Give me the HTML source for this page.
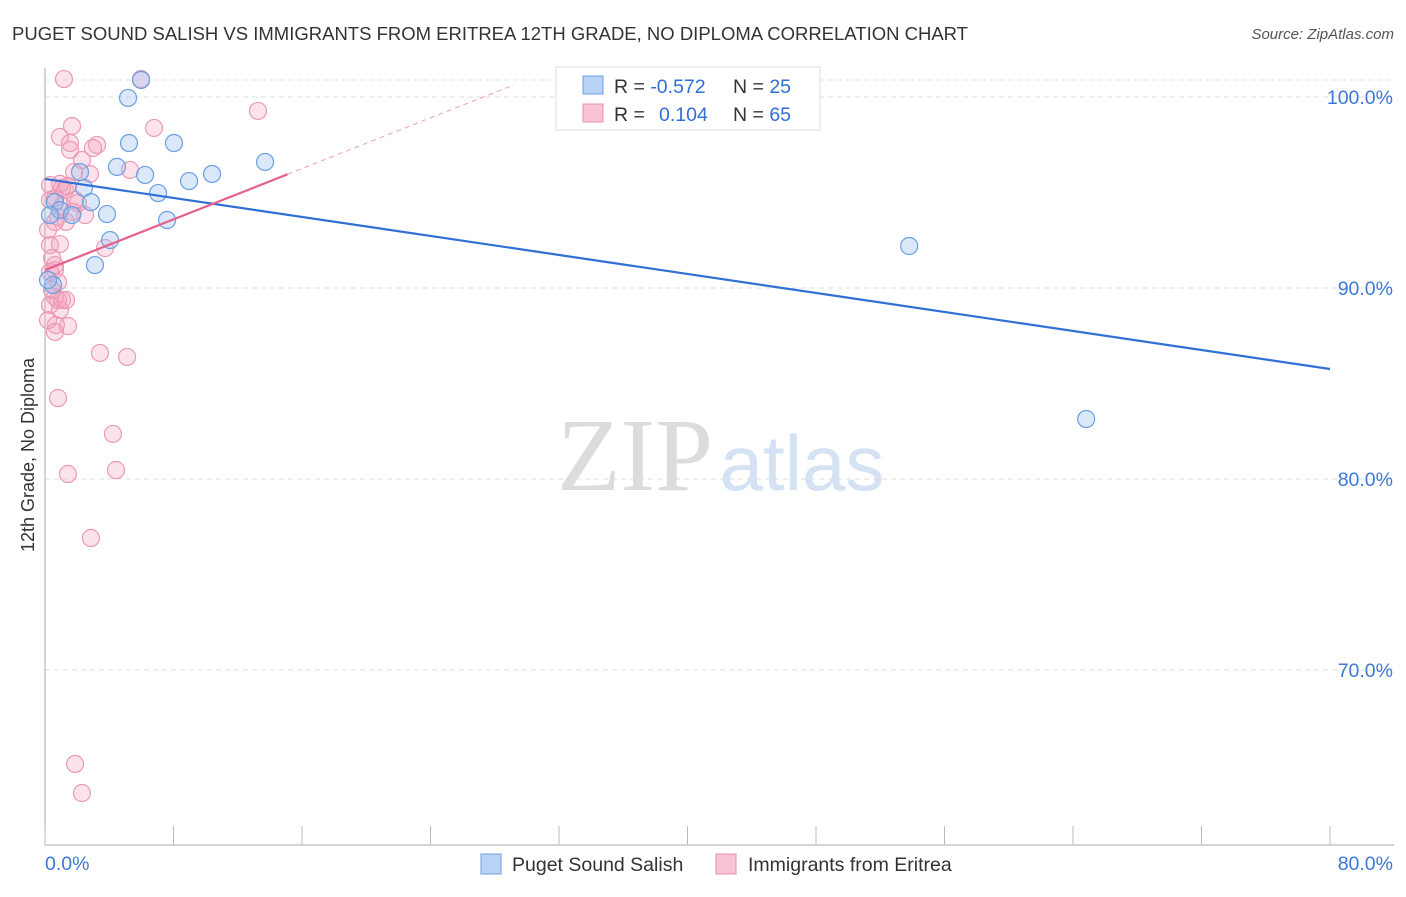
<!DOCTYPE html>
<html><head><meta charset="utf-8"><style>
body{margin:0;background:#fff;font-family:"Liberation Sans",sans-serif}
</style></head><body>
<svg id="chart" width="1406" height="892" xmlns="http://www.w3.org/2000/svg" style="font-family:'Liberation Sans',sans-serif">
<text x="12" y="40" font-size="18.5" fill="#333">PUGET SOUND SALISH VS IMMIGRANTS FROM ERITREA 12TH GRADE, NO DIPLOMA CORRELATION CHART</text>
<text x="1394" y="39" font-size="15" fill="#555" font-style="italic" text-anchor="end">Source: ZipAtlas.com</text>
<g>
<text x="635" y="490" font-size="104" fill="#dcdcdc" text-anchor="middle" font-family="Liberation Serif,serif">ZIP</text>
<text x="802" y="490" font-size="78" fill="#d4e2f4" text-anchor="middle">atlas</text>
</g>
<g id="grid"></g>
<g id="axes"></g>
<g id="marks"></g>
<text transform="translate(34,455) rotate(-90)" font-size="18" fill="#333" text-anchor="middle">12th Grade, No Diploma</text>
<g>
<rect x="556" y="67" width="264" height="63" fill="#fff" stroke="#ddd"/>
<rect x="583" y="76" width="20" height="18" fill="#b9d3f5" stroke="#6a9fe0"/>
<rect x="583" y="104" width="20" height="18" fill="#f8c3d4" stroke="#ea8fb0"/>
<text x="614" y="93" font-size="19.5" fill="#333">R = <tspan fill="#2f6fd6">-0.572</tspan></text>
<text x="733" y="93" font-size="19.5" fill="#333">N = <tspan fill="#2f6fd6">25</tspan></text>
<text x="614" y="121" font-size="19.5" fill="#333">R = <tspan fill="#2f6fd6" x="659">0.104</tspan></text>
<text x="733" y="121" font-size="19.5" fill="#333">N = <tspan fill="#2f6fd6">65</tspan></text>
</g>
<g>
<rect x="481" y="854" width="20" height="20" fill="#b9d3f5" stroke="#6a9fe0"/>
<text x="512" y="871" font-size="19.5" fill="#333">Puget Sound Salish</text>
<rect x="716" y="854" width="20" height="20" fill="#f8c3d4" stroke="#ea8fb0"/>
<text x="748" y="871" font-size="19.5" fill="#333">Immigrants from Eritrea</text>
</g>
</svg>
<script>
const yTicks=[100,90,80,70];
const yTickLabels=["100.0%","90.0%","80.0%","70.0%"];
const xTicks=[0,8,16,24,32,40,48,56,64,72,80];
const blueX=[5.98,5.17,5.23,8.03,4.48,6.23,10.40,8.97,13.70,7.04,2.43,2.18,2.86,0.62,0.93,3.86,1.68,7.60,4.05,3.11,0.50,53.80,64.82,0.31,0.19];
const blueY=[100.89,99.95,97.59,97.59,96.34,95.92,95.97,95.60,96.60,94.97,95.24,96.07,94.50,94.50,94.08,93.87,93.82,93.56,92.51,91.20,90.16,92.20,83.14,93.82,90.42];
const pinkX=[1.18,5.98,13.26,1.68,6.79,0.93,1.56,3.24,2.99,2.30,5.29,2.80,1.81,0.93,1.25,1.43,2.05,0.62,1.06,1.74,1.31,0.62,3.74,0.31,0.93,0.44,0.62,0.31,0.81,0.62,0.81,1.06,0.31,0.93,0.68,1.43,0.62,3.42,5.11,0.81,4.23,1.43,4.42,2.86,1.87,2.30,0.31,0.19,0.44,0.19,1.31,1.87,2.49,0.81,1.06,1.56,0.31,0.62];
const pinkY=[100.94,100.94,99.27,98.48,98.38,97.91,97.59,97.49,97.33,96.70,96.18,95.97,96.07,95.45,95.13,95.34,94.45,94.71,94.29,93.98,93.46,93.46,92.09,92.25,92.30,91.57,90.94,90.84,90.31,89.53,89.37,89.37,89.11,88.85,88.06,88.01,87.70,86.60,86.39,84.24,82.36,80.26,80.47,76.91,65.08,63.56,94.61,93.04,89.90,88.32,89.37,94.61,93.82,93.72,95.24,97.23,95.39,91.20];
const blueTrend=[95.71,85.76]; // y at x=0 and x=80
const pinkTrend=[90.94,0.332]; // intercept, slope
const NS="http://www.w3.org/2000/svg";
const X=v=>45+v*1285/80;
const Y=v=>97+(100-v)*19.1;
function mk(tag,attrs,parent){const e=document.createElementNS(NS,tag);for(const k in attrs)e.setAttribute(k,attrs[k]);document.getElementById(parent).appendChild(e);return e;}
yTicks.forEach((t,i)=>{
 let g=mk('line',{x1:45,x2:1394,y1:Y(t),y2:Y(t),stroke:'#ddd','stroke-dasharray':'5,4'},'grid');
 
 
 let l=mk('text',{x:1393,y:Y(t)+7,'font-size':19.5,fill:'#3b78d8','text-anchor':'end'},'axes');
 l.textContent=yTickLabels[i];
 
 
});
let gt=mk('line',{x1:45,x2:1394,y1:80,y2:80,stroke:'#e4e4e4','stroke-dasharray':'5,4'},'grid');


let ya=mk('line',{x1:45,x2:45,y1:68,y2:845,stroke:'#aaa'},'axes');


let xa=mk('line',{x1:45,x2:1394,y1:845,y2:845,stroke:'#aaa'},'axes');


xTicks.forEach(t=>{
 let tk=mk('line',{x1:X(t),x2:X(t),y1:826,y2:845,stroke:'#bbb'},'axes');
 
 
});
let xl0=mk('text',{x:45,y:870,'font-size':19.5,fill:'#3b78d8'},'axes');xl0.textContent='0.0%';


let xl1=mk('text',{x:1393,y:870,'font-size':19.5,fill:'#3b78d8','text-anchor':'end'},'axes');xl1.textContent='80.0%';


pinkX.forEach((x,i)=>{
 let c=mk('circle',{cx:X(x),cy:Y(pinkY[i]),r:8.5,fill:'rgba(244,160,190,0.3)',stroke:'#eb9ab6','stroke-width':1.2},'marks');
 
 
});
blueX.forEach((x,i)=>{
 let c=mk('circle',{cx:X(x),cy:Y(blueY[i]),r:8.5,fill:'rgba(150,190,240,0.35)',stroke:'#6a9fe0','stroke-width':1.2},'marks');
 
 
});
let bt=mk('line',{x1:X(0),y1:Y(blueTrend[0]),x2:X(80),y2:Y(blueTrend[1]),stroke:'#2f6fd6','stroke-width':2.2},'marks');


let pt=mk('line',{x1:X(0),y1:Y(pinkTrend[0]),x2:X(15.1),y2:Y(pinkTrend[0]+pinkTrend[1]*15.1),stroke:'#e5608c','stroke-width':2.2},'marks');


let pd=mk('line',{x1:X(15.1),y1:Y(pinkTrend[0]+pinkTrend[1]*15.1),x2:X(29.2),y2:Y(pinkTrend[0]+pinkTrend[1]*29.2),stroke:'#eba0b8','stroke-width':1,'stroke-dasharray':'5,4'},'marks');


</script>
</body></html>
